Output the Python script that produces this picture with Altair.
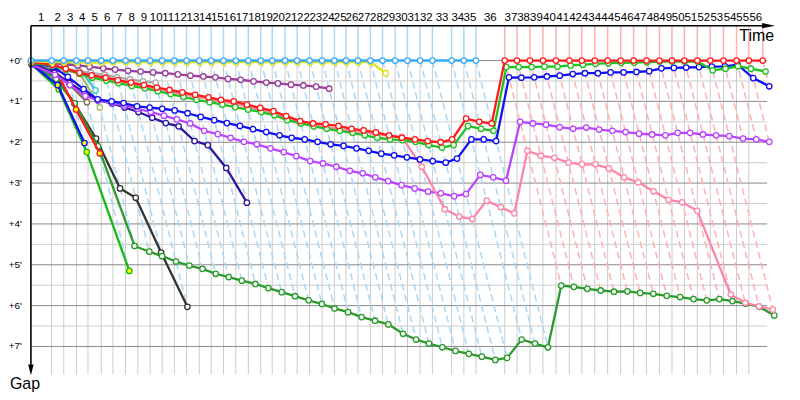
import altair as alt
import pandas as pd

# ---------------- data ----------------
# leader's elapsed time (minutes) at the end of each lap, lap 0 .. lap 56
lap_end_min = [0.00, 2.01, 3.20, 4.44, 5.56, 6.86, 7.99, 9.22, 10.42, 11.62,
               12.79, 13.98, 15.17, 16.41, 17.57, 18.77, 19.97, 21.19, 22.40, 23.52,
               24.76, 25.95, 27.16, 28.38, 29.58, 30.71, 31.87, 33.08, 34.27, 35.50,
               36.70, 37.93, 39.13, 41.00, 42.20, 43.37, 46.18, 47.38, 48.64, 49.90,
               51.17, 52.48, 53.69, 54.95, 56.21, 57.48, 58.74, 60.00, 61.26, 62.48,
               63.69, 64.95, 66.21, 67.50, 68.77, 69.97, 71.33]
lap_labels = [str(i) for i in range(1, 57)]
first_red_lead_lap = 36

gap_major = [0, 1, 2, 3, 4, 5, 6, 7]
gap_major_labels = ["+0'", "+1'", "+2'", "+3'", "+4'", "+5'", "+6'", "+7'"]
gap_minor = [0.5, 1.5, 2.5, 3.5, 4.5, 5.5, 6.5]

# gaps (minutes) per lap, starting at lap 0
gap_leader = [0, 0, 0, 0, 0, 0, 0, 0, 0, 0, 0, 0, 0, 0, 0, 0, 0, 0,
              0, 0, 0, 0, 0, 0, 0, 0, 0, 0, 0, 0, 0, 0, 0, 0, 0, 0]
gap_yellow = [0.02, 0.04, 0.04, 0.04, 0.05, 0.05, 0.04, 0.04, 0.04, 0.04,
              0.04, 0.04, 0.04, 0.04, 0.04, 0.04, 0.04, 0.04, 0.04, 0.04,
              0.04, 0.04, 0.04, 0.04, 0.04, 0.04, 0.04, 0.04, 0.31]
gap_purple = [0.03, 0.06, 0.09, 0.12, 0.15, 0.19, 0.22, 0.25, 0.27, 0.29,
              0.31, 0.34, 0.37, 0.39, 0.41, 0.45, 0.47, 0.51, 0.54, 0.56,
              0.59, 0.61, 0.64, 0.69]
gap_gray = [0.05, 0.12, 0.20, 0.26, 0.30, 0.35, 0.41, 0.46, 0.51, 0.54]
gap_red = [0.04, 0.10, 0.20, 0.30, 0.36, 0.42, 0.48, 0.54, 0.60, 0.66,
           0.72, 0.78, 0.84, 0.90, 0.96, 1.00, 1.08, 1.16, 1.24, 1.36,
           1.48, 1.54, 1.56, 1.60, 1.67, 1.71, 1.76, 1.83, 1.89, 1.93,
           1.97, 2.00, 1.93, 1.42, 1.50, 1.54,
           0, 0, 0, 0, 0, 0, 0, 0, 0, 0, 0, 0, 0, 0, 0, 0, 0, 0, 0, 0, 0]
gap_green = [0.06, 0.12, 0.22, 0.32, 0.42, 0.49, 0.55, 0.62, 0.68, 0.75,
             0.82, 0.89, 0.96, 1.02, 1.08, 1.14, 1.20, 1.26, 1.34, 1.46,
             1.54, 1.61, 1.67, 1.72, 1.77, 1.83, 1.89, 1.93, 1.95, 1.99,
             2.07, 2.13, 2.07, 1.60, 1.67, 1.72,
             0.16, 0.16, 0.16, 0.15, 0.15, 0.12, 0.10, 0.08, 0.065, 0.055,
             0.05, 0.04, 0.025, 0.025, 0.025, 0.025, 0.24, 0.20, 0.14, 0.20, 0.27]
gap_pink = [0.05, 0.12, 0.23, 0.33, 0.40, 0.46, 0.52, 0.58, 0.64, 0.70,
            0.76, 0.82, 0.88, 0.94, 1.00, 1.06, 1.13, 1.21, 1.30, 1.41,
            1.53, 1.59, 1.63, 1.67, 1.72, 1.76, 1.80, 1.84, 1.87, 2.60,
            3.64, 3.82, 3.88, 3.43, 3.59, 3.74,
            2.21, 2.33, 2.38, 2.50, 2.54, 2.54, 2.64, 2.86, 2.98, 3.20,
            3.41, 3.47, 3.68, 5.73, 5.93, 6.02, 6.10]
gap_blue = [0.07, 0.15, 0.40, 0.70, 0.95, 1.00, 1.04, 1.12, 1.15, 1.18,
            1.22, 1.29, 1.38, 1.46, 1.53, 1.60, 1.68, 1.75, 1.83, 1.89,
            1.93, 1.99, 2.05, 2.09, 2.15, 2.21, 2.28, 2.32, 2.37, 2.42,
            2.46, 2.50, 2.40, 1.93, 1.93, 1.97,
            0.41, 0.42, 0.41, 0.39, 0.37, 0.33, 0.31, 0.31, 0.29, 0.29,
            0.28, 0.26, 0.19, 0.18, 0.17, 0.16, 0.15, 0.14, 0.10, 0.43, 0.63]
gap_navy = [0.08, 0.30, 0.55, 0.78, 0.97, 1.05, 1.15, 1.26, 1.40, 1.53,
            1.61, 1.97, 2.07, 2.63, 3.48]
gap_magenta = [0.10, 0.35, 0.60, 0.87, 0.97, 1.04, 1.10, 1.18, 1.26, 1.35,
               1.44, 1.54, 1.72, 1.80, 1.89, 1.99, 2.05, 2.15, 2.24, 2.34,
               2.46, 2.52, 2.60, 2.70, 2.76, 2.86, 2.95, 3.05, 3.13, 3.21,
               3.25, 3.32, 3.27, 2.80, 2.86, 2.94,
               1.50, 1.54, 1.57, 1.63, 1.67, 1.64, 1.69, 1.72, 1.75, 1.79,
               1.81, 1.83, 1.77, 1.77, 1.81, 1.83, 1.85, 1.91, 1.93, 1.99]
gap_darkgreen = [0.10, 0.45, 1.05, 2.10, 4.54, 4.68, 4.79, 4.92, 5.02, 5.10,
                 5.22, 5.30, 5.39, 5.47, 5.57, 5.67, 5.77, 5.87, 5.96, 6.07,
                 6.16, 6.28, 6.37, 6.46, 6.69, 6.83, 6.93, 7.02, 7.11, 7.18,
                 7.25, 7.33, 7.28, 6.83, 6.93, 7.02,
                 5.51, 5.54, 5.59, 5.63, 5.66, 5.65, 5.69, 5.71, 5.76, 5.79,
                 5.84, 5.87, 5.84, 5.89, 5.95, 6.03, 6.24]
gap_black = [0.08, 0.40, 1.05, 1.91, 3.13, 3.36, 4.70, 6.03]
gap_lime = [0.10, 0.70, 2.24, 5.15]
gap_blue2 = [0.09, 0.60, 2.02]
gap_red2 = [0.03, 0.08, 1.20, 2.27]
gap_teal = [0.03, 0.05, 0.08, 0.12, 0.73]
gap_khaki = [0.06, 0.15, 0.24, 0.29, 1.15]
gap_olive = [0.07, 0.25, 0.60, 1.02]

# laps whose marker is filled yellow
yellow_marker_laps = {"red2": [1, 2, 3], "blue2": [1, 2], "lime": [1, 2, 3]}

# draw order (bottom to top): name, gaps, colour
series = [
    ("olive", gap_olive, "#7a7444"),
    ("khaki", gap_khaki, "#a9ba6a"),
    ("teal", gap_teal, "#33c6c6"),
    ("gray", gap_gray, "#a8a8a8"),
    ("black", gap_black, "#333333"),
    ("darkgreen", gap_darkgreen, "#2a9a2a"),
    ("lime", gap_lime, "#14bb14"),
    ("blue2", gap_blue2, "#1010f0"),
    ("red2", gap_red2, "#ff1a1a"),
    ("navy", gap_navy, "#2b179f"),
    ("magenta", gap_magenta, "#bb44ff"),
    ("pink", gap_pink, "#ff85a8"),
    ("purple", gap_purple, "#9a3f9a"),
    ("blue", gap_blue, "#1010f0"),
    ("green", gap_green, "#20c020"),
    ("red", gap_red, "#ff1a1a"),
    ("yellow", gap_yellow, "#e2e21a"),
    ("leader", gap_leader, "#3aa8f5"),
]

# ---------------- geometry of the scales ----------------
W, H = 739, 350
X_MAX = 71.75
Y_MIN, Y_MAX = -0.854, 7.683
xs = alt.Scale(domain=[0, X_MAX], nice=False, zero=False)
ys = alt.Scale(domain=[Y_MIN, Y_MAX], reverse=True, nice=False, zero=False)


def X(f):
    return alt.X(f, type="quantitative", scale=xs, axis=None)


def Y(f):
    return alt.Y(f, type="quantitative", scale=ys, axis=None)


LAP_BLUE = "#a9d7f7"
LAP_RED = "#ffb0b0"
FONT = "Liberation Sans"

layers = []

# grid
minor_df = pd.DataFrame({"g": gap_minor, "x0": 0.0, "x1": X_MAX})
layers.append(alt.Chart(minor_df).mark_rule(color="#cccccc", strokeWidth=1)
              .encode(x=X("x0"), x2="x1", y=Y("g")))
vgrid_df = pd.DataFrame({"t": lap_end_min[1:56], "y0": 0.0, "y1": Y_MAX})
layers.append(alt.Chart(vgrid_df).mark_rule(color="#cccccc", strokeWidth=1)
              .encode(x=X("t"), y=Y("y0"), y2="y1"))
major_df = pd.DataFrame({"g": gap_major, "x0": 0.0, "x1": X_MAX})
layers.append(alt.Chart(major_df).mark_rule(color="#8a8a8a", strokeWidth=1)
              .encode(x=X("x0"), x2="x1", y=Y("g")))

# lap lines (through every car's crossing of the same lap)
rows = []
for k in range(1, 57):
    gmax = max(g[k] for _, g, _ in series if len(g) > k)
    t = lap_end_min[k]
    rows.append({"t": t, "ytop": Y_MIN, "zero": 0.0, "xe": t + gmax, "ge": gmax,
                 "c": LAP_BLUE if k < first_red_lead_lap else LAP_RED})
lap_df = pd.DataFrame(rows)
layers.append(alt.Chart(lap_df).mark_rule(strokeWidth=1.5)
              .encode(x=X("t"), y=Y("ytop"), y2="zero", color=alt.Color("c:N", scale=None)))
layers.append(alt.Chart(lap_df).mark_rule(strokeWidth=1.5, strokeDash=[7, 4])
              .encode(x=X("t"), y=Y("zero"), x2="xe", y2="ge", color=alt.Color("c:N", scale=None)))

# series
for name, gaps, col in series:
    yl = yellow_marker_laps.get(name, [])
    df = pd.DataFrame({
        "lap": list(range(len(gaps))),
        "gap": gaps,
        "x": [lap_end_min[i] + g for i, g in enumerate(gaps)],
        "fill": ["#ffff00" if i in yl else "#ffffff" for i in range(len(gaps))],
    })
    sw = 2.6 if name == "leader" else 2.3
    base = alt.Chart(df)
    layers.append(base.mark_line(color=col, strokeWidth=sw)
                  .encode(x=X("x"), y=Y("gap"), order=alt.Order("lap:Q")))
    layers.append(base.mark_point(shape="circle", filled=True, stroke=col, strokeWidth=1.3,
                                  size=30, opacity=1)
                  .encode(x=X("x"), y=Y("gap"), fill=alt.Fill("fill:N", scale=None)))

# lap labels (top)
lab_df = pd.DataFrame({
    "mid": [(lap_end_min[i] + lap_end_min[i + 1]) / 2 for i in range(56)],
    "lab": lap_labels,
})
layers.append(alt.Chart(lab_df).mark_text(font=FONT, fontSize=11.5, color="black",
                                          align="center", baseline="middle")
              .encode(x=X("mid"), y=alt.value(-7.5), text="lab:N"))

# gap labels (left)
ylab_df = pd.DataFrame({"g": gap_major, "lab": gap_major_labels})
layers.append(alt.Chart(ylab_df).mark_text(font=FONT, fontSize=10, color="black",
                                           align="right", baseline="middle")
              .encode(x=alt.value(-9), y=Y("g"), text="lab:N"))

# axes with arrows
one = pd.DataFrame({"a": [0]})
layers.append(alt.Chart(one).mark_rule(color="black", strokeWidth=1.6)
              .encode(x=alt.value(0), x2=alt.value(736), y=alt.value(0)))
layers.append(alt.Chart(one).mark_rule(color="black", strokeWidth=1.6)
              .encode(x=alt.value(0), y=alt.value(0), y2=alt.value(342)))
layers.append(alt.Chart(one).mark_point(shape="M-1,-0.4L1,0L-1,0.4Z", filled=True,
                                        color="black", size=169, opacity=1)
              .encode(x=alt.value(740.5), y=alt.value(0)))
layers.append(alt.Chart(one).mark_point(shape="M-0.5,-1L0.5,-1L0,1Z", filled=True,
                                        color="black", size=121, opacity=1)
              .encode(x=alt.value(0), y=alt.value(345.5)))
layers.append(alt.Chart(one).mark_text(font=FONT, fontSize=16, color="black",
                                       align="right", baseline="top", text="Time")
              .encode(x=alt.value(746), y=alt.value(2)))
layers.append(alt.Chart(one).mark_text(font=FONT, fontSize=16, color="black",
                                       align="center", baseline="top", text="Gap")
              .encode(x=alt.value(-6), y=alt.value(352)))

chart = (alt.layer(*layers)
         .properties(width=W, height=H,
                     autosize=alt.AutoSizeParams(type="none"),
                     padding={"left": 23, "top": 17, "right": 25, "bottom": 25},
                     background="white")
         .configure_view(stroke=None))

chart.save("out.html", embed_options={"renderer": "svg", "actions": False})
